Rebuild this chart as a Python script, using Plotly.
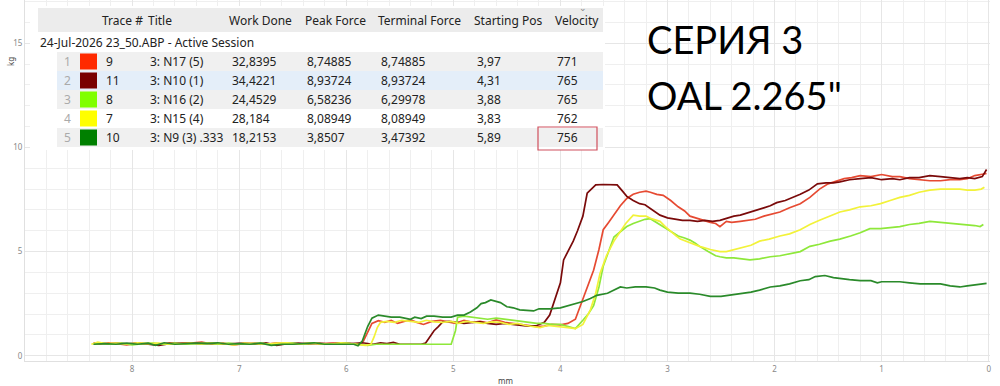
import plotly.graph_objects as go

# ---------------- data ----------------
trace_ids = ["9", "11", "8", "7", "10"]
titles = ["3: N17 (5)", "3: N10 (1)", "3: N16 (2)", "3: N15 (4)", "3: N9 (3) .333"]
work_done = ["32,8395", "34,4221", "24,4529", "28,184", "18,2153"]
peak_force = ["8,74885", "8,93724", "6,58236", "8,08949", "3,8507"]
terminal_force = ["8,74885", "8,93724", "6,29978", "8,08949", "3,47392"]
starting_pos = ["3,97", "4,31", "3,88", "3,83", "5,89"]
velocity = ["771", "765", "765", "762", "756"]
session_label = "24-Jul-2026 23_50.ABP - Active Session"
headers = ["Trace #", "Title", "Work Done", "Peak Force", "Terminal Force", "Starting Pos", "Velocity"]
big_text = ["СЕРИЯ 3", "OAL 2.265\""]

# (mm, kg) points per trace
red_pts = [(8.36,0.6),(8.3,0.55),(8.22,0.62),(8.15,0.58),(8.05,0.52),(7.95,0.6),(7.85,0.57),(7.75,0.55),
    (7.65,0.62),(7.55,0.58),(7.45,0.6),(7.35,0.65),(7.25,0.56),(7.15,0.6),(7.05,0.52),(6.95,0.58),(6.85,0.6),
    (6.75,0.55),(6.65,0.62),(6.55,0.58),(6.45,0.55),(6.35,0.6),(6.25,0.57),(6.15,0.6),(6.05,0.62),(5.95,0.58),
    (5.89,0.55),(5.84,0.7),(5.79,1.2),(5.76,1.55),(5.7,1.68),(5.64,1.6),(5.58,1.7),(5.52,1.55),(5.46,1.65),
    (5.4,1.72),(5.34,1.6),(5.28,1.5),(5.2,1.65),(5.12,1.7),(5.05,1.62),(4.98,1.55),(4.9,1.7),(4.82,1.6),
    (4.75,1.65),(4.68,1.58),(4.6,1.72),(4.52,1.6),(4.45,1.55),(4.38,1.5),(4.3,1.45),(4.22,1.4),(4.15,1.42),
    (4.08,1.5),(4.0,1.48),(3.93,1.55),(3.86,1.75),(3.79,2.7),(3.74,3.4),(3.69,4.1),(3.64,5.1),(3.6,6.05),
    (3.55,6.4),(3.5,6.75),(3.44,7.2),(3.38,7.55),(3.32,7.75),(3.26,7.85),(3.2,7.9),(3.16,7.85),(3.1,7.75),
    (3.04,7.7),(2.97,7.45),(2.9,7.15),(2.84,6.95),(2.79,6.7),(2.73,6.6),(2.67,6.5),(2.6,6.4),(2.55,6.35),
    (2.51,6.2),(2.45,6.45),(2.4,6.4),(2.32,6.45),(2.25,6.5),(2.18,6.55),(2.1,6.7),(2.02,6.8),(1.95,6.9),
    (1.86,7.1),(1.76,7.3),(1.67,7.6),(1.58,8.0),(1.5,8.25),(1.42,8.4),(1.35,8.5),(1.28,8.55),(1.2,8.65),
    (1.1,8.6),(1.0,8.7),(0.9,8.6),(0.83,8.6),(0.74,8.5),(0.65,8.45),(0.55,8.4),(0.45,8.4),(0.36,8.45),
    (0.27,8.45),(0.2,8.5),(0.13,8.65),(0.07,8.7),(0.02,8.75)]

darkred_pts = [(8.36,0.58),(8.3,0.62),(8.22,0.55),(8.15,0.6),(8.05,0.57),(7.95,0.6),(7.85,0.55),(7.75,0.5),
    (7.65,0.58),(7.55,0.6),(7.45,0.62),(7.35,0.58),(7.25,0.6),(7.15,0.56),(7.05,0.58),(6.95,0.6),(6.85,0.55),
    (6.75,0.62),(6.65,0.5),(6.55,0.58),(6.45,0.6),(6.35,0.57),(6.25,0.6),(6.15,0.55),(6.05,0.6),(5.95,0.58),
    (5.85,0.62),(5.75,0.55),(5.68,0.62),(5.62,0.58),(5.56,0.64),(5.5,0.55),(5.4,0.55),(5.3,0.55),(5.26,0.6),
    (5.22,0.9),(5.18,1.2),(5.14,1.4),(5.1,1.62),(5.04,1.65),(4.98,1.6),(4.9,1.55),(4.82,1.6),(4.75,1.62),
    (4.68,1.55),(4.6,1.5),(4.52,1.55),(4.45,1.5),(4.38,1.45),(4.3,1.42),(4.22,1.45),(4.15,1.6),(4.1,1.95),
    (4.05,2.7),(4.0,3.5),(3.97,4.6),(3.92,5.1),(3.88,5.5),(3.84,6.0),(3.79,6.7),(3.75,7.8),(3.71,8.0),
    (3.67,8.2),(3.6,8.22),(3.53,8.22),(3.47,8.2),(3.42,7.9),(3.38,7.65),(3.32,7.45),(3.26,7.3),(3.21,7.25),
    (3.14,7.0),(3.07,6.75),(3.0,6.62),(2.93,6.55),(2.86,6.5),(2.79,6.5),(2.72,6.45),(2.65,6.5),(2.58,6.45),
    (2.51,6.5),(2.45,6.6),(2.38,6.7),(2.32,6.75),(2.25,6.85),(2.18,6.95),(2.1,7.1),(2.04,7.2),(1.98,7.35),
    (1.9,7.45),(1.82,7.6),(1.76,7.75),(1.68,7.95),(1.6,8.25),(1.52,8.3),(1.45,8.3),(1.39,8.35),(1.3,8.45),
    (1.2,8.5),(1.1,8.55),(1.0,8.45),(0.9,8.5),(0.83,8.45),(0.74,8.55),(0.65,8.55),(0.55,8.65),(0.45,8.6),
    (0.36,8.55),(0.27,8.5),(0.2,8.55),(0.13,8.5),(0.06,8.6),(0.02,8.94)]

lightgreen_pts = [(8.36,0.55),(8.3,0.6),(8.2,0.55),(8.1,0.6),(8.0,0.52),(7.9,0.58),(7.8,0.6),(7.7,0.55),
    (7.6,0.6),(7.5,0.55),(7.4,0.58),(7.3,0.6),(7.2,0.55),(7.1,0.6),(7.0,0.55),(6.9,0.58),(6.8,0.6),(6.7,0.55),
    (6.6,0.58),(6.5,0.6),(6.4,0.55),(6.3,0.6),(6.2,0.55),(6.1,0.58),(6.0,0.6),(5.9,0.55),(5.8,0.5),(5.72,0.55),
    (5.6,0.55),(5.4,0.55),(5.2,0.55),(5.02,0.55),(4.98,1.2),(4.96,1.85),(4.9,1.9),(4.82,1.85),(4.75,1.8),
    (4.68,1.75),(4.6,1.8),(4.52,1.75),(4.45,1.7),(4.38,1.65),(4.3,1.6),(4.22,1.55),(4.15,1.55),(4.08,1.5),
    (4.0,1.5),(3.93,1.4),(3.86,1.3),(3.79,1.7),(3.74,2.0),(3.69,2.4),(3.64,3.3),(3.6,4.3),(3.55,5.0),(3.5,5.7),
    (3.44,5.95),(3.38,6.2),(3.32,6.35),(3.26,6.45),(3.21,6.55),(3.16,6.58),(3.12,6.45),(3.07,6.3),(3.02,6.15),
    (2.97,5.95),(2.9,5.75),(2.84,5.65),(2.79,5.55),(2.74,5.4),(2.7,5.25),(2.62,5.0),(2.55,4.8),(2.51,4.75),
    (2.45,4.7),(2.38,4.7),(2.32,4.65),(2.23,4.6),(2.14,4.65),(2.04,4.75),(1.95,4.8),(1.86,4.9),(1.76,5.0),
    (1.67,5.25),(1.58,5.35),(1.48,5.5),(1.39,5.6),(1.29,5.75),(1.2,5.9),(1.11,6.1),(1.01,6.1),(0.92,6.15),
    (0.83,6.2),(0.74,6.3),(0.65,6.35),(0.55,6.45),(0.45,6.4),(0.36,6.35),(0.27,6.3),(0.2,6.3),(0.13,6.25),
    (0.08,6.2),(0.05,6.3)]

yellow_pts = [(8.38,0.55),(8.32,0.65),(8.25,0.58),(8.15,0.6),(8.05,0.55),(7.95,0.62),(7.85,0.58),(7.75,0.6),
    (7.65,0.55),(7.55,0.58),(7.45,0.6),(7.35,0.55),(7.25,0.6),(7.15,0.58),(7.05,0.52),(6.95,0.6),(6.85,0.58),
    (6.75,0.55),(6.65,0.6),(6.55,0.62),(6.45,0.55),(6.35,0.6),(6.25,0.58),(6.15,0.55),(6.05,0.62),(5.95,0.58),
    (5.88,0.55),(5.82,0.5),(5.77,0.55),(5.74,0.9),(5.71,1.35),(5.68,1.6),(5.62,1.65),(5.55,1.6),(5.48,1.7),
    (5.4,1.65),(5.32,1.6),(5.25,1.7),(5.18,1.62),(5.1,1.6),(5.02,1.65),(4.95,1.55),(4.88,1.65),(4.8,1.6),
    (4.72,1.55),(4.64,1.62),(4.56,1.6),(4.48,1.5),(4.4,1.55),(4.32,1.45),(4.25,1.4),(4.19,1.35),(4.12,1.45),
    (4.05,1.42),(4.0,1.4),(3.93,1.35),(3.86,1.3),(3.79,1.5),(3.72,2.2),(3.67,3.0),(3.63,3.95),(3.57,4.8),
    (3.5,5.5),(3.44,5.95),(3.39,6.35),(3.32,6.75),(3.26,6.7),(3.2,6.7),(3.16,6.6),(3.1,6.5),(3.07,6.45),
    (3.02,6.2),(2.97,5.95),(2.92,5.75),(2.88,5.6),(2.83,5.5),(2.79,5.4),(2.7,5.25),(2.6,5.1),(2.55,5.05),
    (2.51,5.0),(2.45,5.0),(2.37,5.1),(2.3,5.2),(2.22,5.3),(2.14,5.5),(2.05,5.6),(1.95,5.75),(1.86,5.85),
    (1.76,6.05),(1.67,6.3),(1.58,6.5),(1.48,6.7),(1.39,6.9),(1.3,7.0),(1.2,7.15),(1.1,7.2),(1.01,7.3),
    (0.92,7.45),(0.83,7.6),(0.74,7.7),(0.65,7.85),(0.55,7.95),(0.45,8.0),(0.36,8.0),(0.27,8.0),(0.2,7.95),
    (0.13,7.95),(0.07,8.0),(0.04,8.09)]

darkgreen_pts = [(8.36,0.55),(8.25,0.58),(8.15,0.55),(8.05,0.6),(7.95,0.55),(7.85,0.6),(7.78,0.5),(7.7,0.62),
    (7.6,0.55),(7.5,0.58),(7.4,0.6),(7.3,0.58),(7.2,0.62),(7.1,0.55),(7.0,0.58),(6.9,0.55),(6.8,0.6),(6.7,0.5),
    (6.6,0.55),(6.5,0.55),(6.4,0.58),(6.3,0.62),(6.2,0.55),(6.1,0.55),(6.0,0.55),(5.93,0.55),(5.89,0.48),
    (5.85,0.7),(5.8,1.4),(5.76,1.8),(5.7,1.95),(5.64,1.9),(5.58,1.85),(5.5,1.85),(5.44,1.8),(5.4,1.75),
    (5.36,1.85),(5.3,1.78),(5.25,1.9),(5.18,1.9),(5.1,1.85),(5.02,1.85),(4.96,1.95),(4.9,1.95),(4.84,2.1),
    (4.78,2.3),(4.74,2.5),(4.7,2.55),(4.65,2.68),(4.6,2.6),(4.56,2.55),(4.5,2.35),(4.44,2.3),(4.38,2.2),
    (4.3,2.15),(4.25,2.15),(4.2,2.25),(4.1,2.25),(4.0,2.3),(3.9,2.45),(3.79,2.6),(3.72,2.75),(3.66,2.9),
    (3.56,3.0),(3.5,3.15),(3.44,3.3),(3.38,3.25),(3.3,3.3),(3.2,3.3),(3.12,3.25),(3.07,3.15),(3.0,3.05),
    (2.9,3.0),(2.79,3.0),(2.7,2.95),(2.6,2.85),(2.5,2.85),(2.4,2.92),(2.32,2.95),(2.22,3.05),(2.14,3.15),
    (2.04,3.3),(1.95,3.35),(1.86,3.45),(1.76,3.6),(1.68,3.65),(1.62,3.8),(1.53,3.85),(1.45,3.75),(1.39,3.7),
    (1.3,3.65),(1.2,3.6),(1.1,3.6),(1.04,3.5),(1.0,3.55),(0.9,3.55),(0.83,3.55),(0.74,3.5),(0.64,3.45),
    (0.55,3.45),(0.45,3.45),(0.36,3.35),(0.27,3.3),(0.2,3.35),(0.13,3.4),(0.05,3.45),(0.02,3.47)]

series_pts = [red_pts, darkred_pts, lightgreen_pts, yellow_pts, darkgreen_pts]
swatch_colors = ["#ff2a00", "#7a0000", "#80ff00", "#ffff00", "#008000"]
line_colors = ["#e64a32", "#7a0a0a", "#8ee83a", "#f2f23a", "#2a8a2a"]
row_fills = ["#f0f0f0", "#e4eef9", "#f0f0f0", "#ffffff", "#f0f0f0"]

# ---------------- layout helpers ----------------
W, H = 1000, 386
ML, MR, MT, MB = 25, 10, 0, 25
PW, PH = W - ML - MR, H - MT - MB

def px(x):
    return (x - ML) / PW

def py(y):
    return (H - MB - y) / PH

fig = go.Figure()
for i in range(5):
    xs = [p[0] for p in series_pts[i]]
    ys = [p[1] for p in series_pts[i]]
    fig.add_trace(go.Scatter(x=xs, y=ys, mode="lines",
                             line=dict(color=line_colors[i], width=1.7),
                             name=titles[i], showlegend=False))

shapes = []
annots = []
FONT = "Noto Sans"
TXT = "#222222"

# table backdrop
shapes.append(dict(type="rect", xref="paper", yref="paper", x0=px(30), x1=px(605), y0=py(150), y1=py(6),
                   fillcolor="#ffffff", line=dict(width=0), layer="above"))
# header band
shapes.append(dict(type="rect", xref="paper", yref="paper", x0=px(38), x1=px(603), y0=py(32), y1=py(8),
                   fillcolor="#ececec", line=dict(width=0), layer="above"))
header_x = [100, 146, 227, 303, 376, 472, 553]
for hx, ht in zip(header_x, headers):
    annots.append(dict(x=px(hx), y=py(20), xref="paper", yref="paper", text=ht, showarrow=False,
                       xanchor="left", yanchor="middle", font=dict(family=FONT, size=12, color=TXT)))
annots.append(dict(x=px(583), y=py(7), xref="paper", yref="paper", text="⌄", showarrow=False,
                   xanchor="center", yanchor="middle", font=dict(family=FONT, size=9, color="#888888")))
annots.append(dict(x=px(38), y=py(43), xref="paper", yref="paper", text=session_label, showarrow=False,
                   xanchor="left", yanchor="middle", font=dict(family=FONT, size=12, color=TXT)))

row_h = 19
for r in range(5):
    top = 52 + r * row_h
    cy = top + row_h / 2
    shapes.append(dict(type="rect", xref="paper", yref="paper", x0=px(57), x1=px(603), y0=py(top + row_h),
                       y1=py(top), fillcolor=row_fills[r], line=dict(width=0), layer="above"))
    shapes.append(dict(type="rect", xref="paper", yref="paper", x0=px(80), x1=px(97), y0=py(cy + 8),
                       y1=py(cy - 8), fillcolor=swatch_colors[r], line=dict(width=0), layer="above"))
    cells = [(62, str(r + 1), "#aaaaaa"), (104, trace_ids[r], TXT), (148, titles[r], TXT),
             (230, work_done[r], TXT), (305, peak_force[r], TXT), (379, terminal_force[r], TXT),
             (475, starting_pos[r], TXT), (555, velocity[r], TXT)]
    for cx, ct, cc in cells:
        annots.append(dict(x=px(cx), y=py(cy), xref="paper", yref="paper", text=ct, showarrow=False,
                           xanchor="left", yanchor="middle", font=dict(family=FONT, size=12, color=cc)))

# highlighted cell
shapes.append(dict(type="rect", xref="paper", yref="paper", x0=px(538), x1=px(597), y0=py(150), y1=py(127),
                   fillcolor="rgba(0,0,0,0)", line=dict(color="#d0505e", width=1.2), layer="above"))

# big text
annots.append(dict(x=px(645), y=py(39), xref="paper", yref="paper", text=big_text[0], showarrow=False,
                   xanchor="left", yanchor="middle", font=dict(family="Lato", size=38, color="#000000")))
annots.append(dict(x=px(645), y=py(95), xref="paper", yref="paper", text=big_text[1], showarrow=False,
                   xanchor="left", yanchor="middle", font=dict(family="Lato", size=38, color="#000000")))

# axis titles
annots.append(dict(x=px(505), y=py(380), xref="paper", yref="paper", text="mm", showarrow=False,
                   xanchor="center", yanchor="middle", font=dict(family=FONT, size=8, color="#444444")))
annots.append(dict(x=px(10), y=py(62), xref="paper", yref="paper", text="kg", showarrow=False, textangle=-90,
                   xanchor="center", yanchor="middle", font=dict(family=FONT, size=8, color="#444444")))

fig.update_layout(
    width=W, height=H, margin=dict(l=ML, r=MR, t=MT, b=MB),
    paper_bgcolor="#ffffff", plot_bgcolor="#ffffff",
    shapes=shapes, annotations=annots, showlegend=False,
    xaxis=dict(range=[9.0, -0.012], tickvals=[0, 1, 2, 3, 4, 5, 6, 7, 8], showgrid=True,
               gridcolor="#e6e6e6", gridwidth=1, zeroline=False, showline=True, linecolor="#e0e0e0",
               ticks="", tickfont=dict(family=FONT, size=8, color="#888888"),
               minor=dict(dtick=0.2, showgrid=True, gridcolor="#efefef", gridwidth=1)),
    yaxis=dict(range=[-0.255, 17.08], tickvals=[0, 5, 10, 15], showgrid=True,
               gridcolor="#e6e6e6", gridwidth=1, zeroline=False, showline=True, linecolor="#e0e0e0",
               ticks="", tickfont=dict(family=FONT, size=8, color="#888888"),
               minor=dict(dtick=1, showgrid=True, gridcolor="#efefef", gridwidth=1)),
)

fig.write_html("out.html")
